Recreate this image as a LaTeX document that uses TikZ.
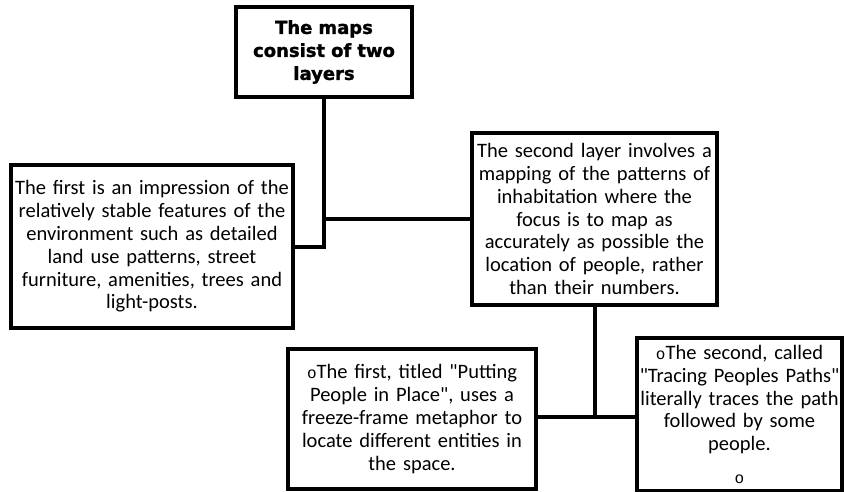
\documentclass[tikz,border=0pt]{standalone}
\usepackage{fontspec}
\setmainfont{Carlito}
\newfontfamily\headfont{DejaVu Sans}[BoldFeatures={FakeBold=1.5}]
\newfontfamily\bulletfont{Liberation Mono}
\usepackage{tikz}
\usetikzlibrary{arrows, positioning}
\newcommand{\bulletmark}{{\bulletfont\fontsize{16}{22.8}\selectfont o}}

\begin{document}
\begin{tikzpicture}[x=1pt,y=-1pt,line width=4pt]
    \tikzstyle{box}=[shape=rectangle,draw,inner sep=2pt,align=center,
        font=\fontsize{20.5}{22.8}\selectfont]
    \tikzstyle{head}=[box,font=\headfont\bfseries\fontsize{18}{23}\selectfont]
    \useasboundingbox (0,0) rectangle (845,491);

    \node[head,text width=172pt,minimum height=90pt] (maps) at (324,52)
        {The maps\\consist of two\\layers};
    \node[box,text width=278pt,minimum height=163pt] (first) at (152,246.5)
        {The first is an impression of the\\relatively stable features of the\\environment such as detailed\\land use patterns, street\\furniture, amenities, trees and\\light-posts.};
    \node[box,text width=241pt,minimum height=172pt] (second) at (594.5,219)
        {The second layer involves a\\mapping of the patterns of\\inhabitation where the\\focus is to map as\\accurately as possible the\\location of people, rather\\than their numbers.};
    \node[box,text width=244pt,minimum height=140pt] (putting) at (412,419)
        {\bulletmark The first, titled \textquotedbl Putting\\People in Place\textquotedbl, uses a\\freeze-frame metaphor to\\locate different entities in\\the space.\\[-14pt]};
    \node[box,text width=201pt,minimum height=153pt] (tracing) at (739.5,414.5)
        {\bulletmark The second, called\\\textquotedbl Tracing Peoples Paths\textquotedbl\\literally traces the path\\followed by some\\people.\\[10pt]\bulletmark};

    \coordinate (fork) at (second.south |- 0,417);
    \path[draw]
    (maps.south) |- (first.east)
    (maps.south |- second.west) -- (second.west)
    (second.south) -- (fork)
    (fork) -- (fork -| putting.east)
    (fork) -- (fork -| tracing.west)
   ;
\end{tikzpicture}
\end{document}
